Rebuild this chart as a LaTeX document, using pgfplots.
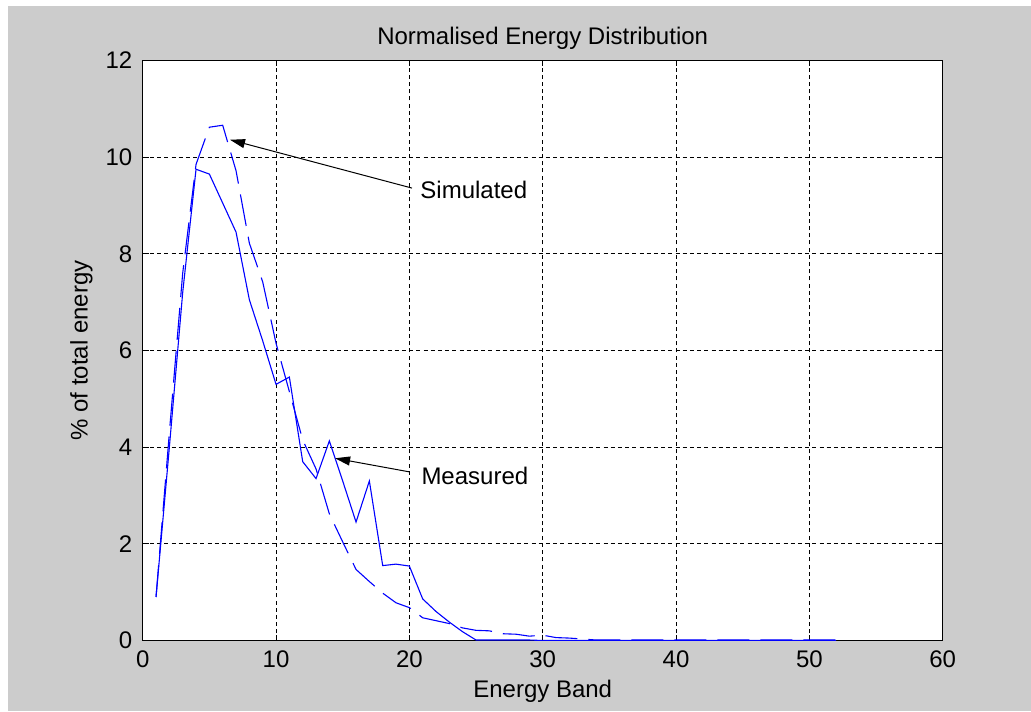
\documentclass[border=0pt]{standalone}
\usepackage{fontspec}
\setmainfont{Liberation Sans}
\usepackage{pgfplots}
\pgfplotsset{compat=1.18}
\usetikzlibrary{arrows.meta}

\definecolor{figgray}{RGB}{204,204,204}
\definecolor{lineblue}{RGB}{0,0,255}

% Measured energy per band (% of total)
\pgfplotstableread{
band val
1 0.9
2 4.0
3 7.2
4 9.75
5 9.65
6 9.05
7 8.45
8 7.05
9 6.2
10 5.3
11 5.45
12 3.7
13 3.35
14 4.13
15 3.3
16 2.45
17 3.3
18 1.55
19 1.58
20 1.54
21 0.86
22 0.6
23 0.38
24 0.18
25 0.01
26 0.01
27 0.01
28 0.01
29 0.01
30 0.0
31 0.0
32 0.0
33 0.0
34 0.0
35 0.0
36 0.0
37 0.0
38 0.0
39 0.0
40 0.0
41 0.0
42 0.0
43 0.0
44 0.0
45 0.0
46 0.0
47 0.0
48 0.0
49 0.0
50 0.0
51 0.0
52 0.0
}\measured

% Simulated energy per band (% of total)
\pgfplotstableread{
band val
1 0.9
2 4.3
3 7.6
4 9.85
5 10.62
6 10.66
7 9.72
8 8.22
9 7.42
10 6.15
11 5.15
12 4.15
13 3.55
14 2.62
15 2.04
16 1.47
17 1.22
18 0.98
19 0.78
20 0.68
21 0.47
22 0.41
23 0.35
24 0.26
25 0.21
26 0.2
27 0.14
28 0.13
29 0.09
30 0.11
31 0.06
32 0.05
33 0.03
34 0.01
35 0.01
36 0.01
37 0.01
38 0.01
39 0.01
40 0.01
41 0.01
42 0.01
43 0.01
44 0.01
45 0.01
46 0.01
47 0.01
48 0.01
49 0.01
50 0.01
51 0.01
52 0.01
}\simulated

\begin{document}
\begin{tikzpicture}[font=\fontsize{12}{14}\selectfont]
  % figure background
  \fill[white] (-71.35pt,-35.25pt) rectangle (444.15pt,320.25pt);
  \fill[figgray] (-67.35pt,-35.25pt) rectangle (444.15pt,317.25pt);
  \path[use as bounding box] (-71.35pt,-35.25pt) rectangle (444.15pt,320.25pt);
  \begin{axis}[
    at={(0,0)}, anchor=south west,
    scale only axis, width=400pt, height=290pt,
    xmin=0, xmax=60, ymin=0, ymax=12,
    xtick={0,10,...,60}, ytick={0,2,...,12},
    axis background/.style={fill=white},
    axis line style={black, line width=0.6pt},
    tick align=inside, major tick length=3pt,
    tick style={black, line width=0.5pt},
    grid=major,
    major grid style={black, line width=0.5pt, dash pattern=on 2pt off 1.6pt},
    /pgf/number format/assume math mode=true,
    ticklabel style={font=\fontsize{12}{14}\selectfont, inner sep=0pt},
    xticklabel style={anchor=base, yshift=-13.5pt},
    yticklabel style={anchor=east, xshift=-5pt},
    every axis title shift=0pt,
    title={Normalised Energy Distribution},
    title style={at={(axis description cs:0.5,1.027)}, anchor=base, inner sep=0pt, yshift=0pt},
    xlabel={Energy Band},
    xlabel style={at={(axis description cs:0.5,-0.0984)}, anchor=base, inner sep=0pt},
    ylabel={\% of total energy},
    ylabel style={at={(axis description cs:-0.0688,0.5)}, anchor=base, inner sep=0pt},
  ]
    \addplot[lineblue, line width=0.55pt, dash pattern=on 16pt off 5.5pt] table[x=band, y=val] {\simulated};
    \addplot[lineblue, line width=0.55pt] table[x=band, y=val] {\measured};

    \draw[black, line width=0.5pt, -{Triangle[length=7.5pt,width=4.5pt]}]
      (axis cs:20.2,9.36) -- (axis cs:6.55,10.36);
    \node[anchor=base west, inner sep=0pt] at (axis cs:20.8,9.135) {Simulated};
    \draw[black, line width=0.5pt, -{Triangle[length=7.5pt,width=4.5pt]}]
      (axis cs:19.98,3.49) -- (axis cs:14.43,3.77);
    \node[anchor=base west, inner sep=0pt] at (axis cs:20.88,3.22) {Measured};
  \end{axis}
\end{tikzpicture}
\end{document}
